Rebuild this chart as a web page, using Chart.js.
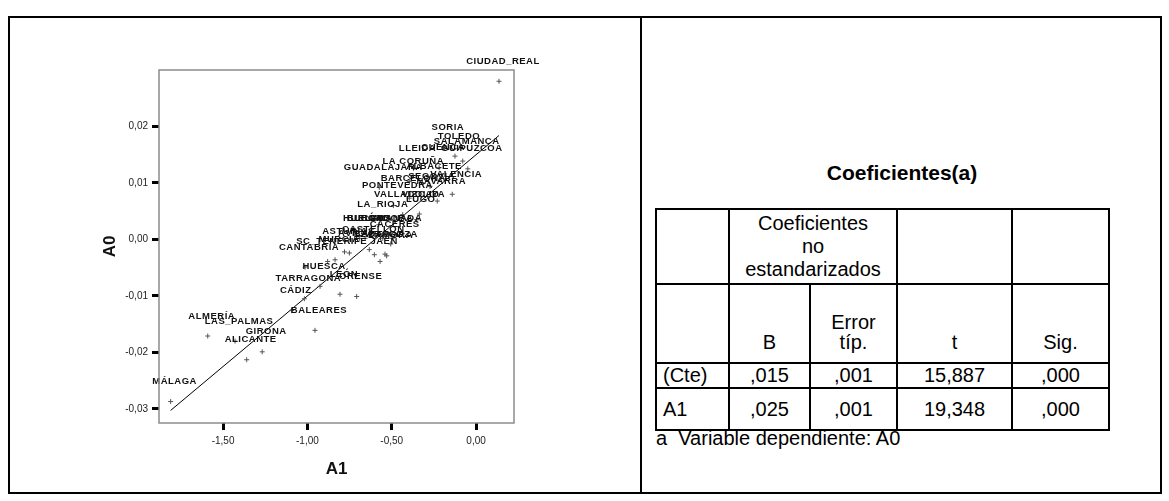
<!DOCTYPE html>
<html>
<head>
<meta charset="utf-8">
<title>A0 frente a A1</title>
<script src="https://cdn.jsdelivr.net/npm/chart.js@4/dist/chart.umd.min.js"></script>
<style>
    html, body { margin: 0; padding: 0; background: #fff; }
    body {
        width: 1169px; height: 501px; position: relative; overflow: hidden;
        font-family: Arial, "Liberation Sans", sans-serif; color: #000;
    }
    #scatter { position: absolute; left: 0; top: 0; z-index: 0; }
    #frame {
        position: absolute; left: 8px; top: 16px; width: 1150px; height: 474px;
        border: 2px solid #000; z-index: 1; pointer-events: none;
    }
    #divider {
        position: absolute; left: 640px; top: 16px; width: 2px; height: 478px;
        background: #000; z-index: 1;
    }
    #coefTitle {
        position: absolute; left: 643px; width: 518px; top: 161px;
        text-align: center; font-weight: bold; font-size: 21px; line-height: 24px;
    }
    #coef {
        position: absolute; left: 655px; top: 208px;
        border-collapse: collapse; table-layout: fixed; width: 455px;
        font-size: 20px;
    }
    #coef td { border: 2px solid #000; padding: 0 3px; text-align: center; vertical-align: middle; }
    #coef tr.h1 { height: 75px; }
    #coef tr.h1 td { line-height: 23px; }
    #coef tr.h2 { height: 79px; }
    #coef tr.h2 td { vertical-align: bottom; line-height: 20px; padding-bottom: 10px; }
    #coef td.name { text-align: left; padding-left: 6px; }
    #coefNote { position: absolute; left: 656px; top: 427px; font-size: 20px; line-height: 23px; }
</style>
</head>
<body>
<canvas id="scatter" width="641" height="501"></canvas>
<div id="frame"></div>
<div id="divider"></div>

<div id="coefTitle">Coeficientes(a)</div>
<table id="coef">
    <colgroup>
        <col style="width:73px"><col style="width:81px"><col style="width:87px"><col style="width:115px"><col style="width:97px">
    </colgroup>
    <tbody>
        <tr class="h1"><td></td><td colspan="2">Coeficientes<br>no<br>estandarizados</td><td></td><td></td></tr>
        <tr class="h2"><td></td><td>B</td><td>Error<br>típ.</td><td>t</td><td>Sig.</td></tr>
    </tbody>
</table>
<div id="coefNote">a&nbsp; Variable dependiente: A0</div>

<script>
// Provincias y sus valores (A1 en el eje X, A0 en el eje Y)
const provinces = [
    'CIUDAD_REAL', 'SORIA', 'TOLEDO', 'SALAMANCA', 'CUENCA', 'LLEIDA', 'GUIPUZCOA',
    'LA CORUÑA', 'ALBACETE', 'GUADALAJARA', 'VALENCIA', 'BARCELONA', 'NAVARRA', 'SEGOVIA',
    'PONTEVEDRA', 'VALLADOLID', 'VIZCAYA', 'LUGO', 'LA_RIOJA',
    'HUELVA', 'BURGOS', 'CÓRDOBA', 'GRANADA', 'CÁCERES', 'CASTELLÓN', 'ASTURIAS', 'ÁVILA',
    'BADAJOZ', 'ZARAGOZA', 'ZAMORA', 'MURCIA', 'SC_TENERIFE', 'JAÉN', 'CANTABRIA',
    'HUESCA', 'LEÓN', 'ORENSE', 'TARRAGONA', 'CÁDIZ', 'BALEARES',
    'ALMERÍA', 'LAS_PALMAS', 'GIRONA', 'ALICANTE', 'MÁLAGA'
];
const a1Values = [
    0.136, -0.191, -0.125, -0.079, -0.219, -0.371, -0.049,
    -0.396, -0.273, -0.574, -0.141, -0.396, -0.230, -0.287,
    -0.490, -0.435, -0.336, -0.352, -0.577,
    -0.692, -0.658, -0.553, -0.498, -0.506, -0.633, -0.780, -0.751,
    -0.603, -0.540, -0.530, -0.836, -0.880, -0.569, -1.014,
    -0.925, -0.807, -0.708, -1.018, -1.093, -0.955,
    -1.591, -1.429, -1.268, -1.360, -1.811
];
const a0Values = [
    0.0280, 0.01625, 0.01475, 0.01387, 0.0127, 0.0126, 0.0125,
    0.01025, 0.0094, 0.0092, 0.0080, 0.0073, 0.0068, 0.0076,
    0.0060, 0.0044, 0.0045, 0.0035, 0.0026,
    0.0002, 0.0002, 0.0002, 0.0002, -0.0008, -0.0018, -0.0022, -0.0024,
    -0.0027, -0.0026, -0.0029, -0.0036, -0.0039, -0.0039, -0.0049,
    -0.0083, -0.0097, -0.0101, -0.0105, -0.0126, -0.0161,
    -0.0171, -0.0180, -0.0199, -0.0213, -0.0287
];

const xTickValues = [-1.5, -1.0, -0.5, 0];
const xTickLabels = ['-1,50', '-1,00', '-0,50', '0,00'];
const yTickValues = [-0.03, -0.02, -0.01, 0, 0.01, 0.02];
const yTickLabels = ['-0,03', '-0,02', '-0,01', '0,00', '0,01', '0,02'];

// Tabla de coeficientes
const coefNames = ['(Cte)', 'A1'];
const coefB = [0.015, 0.025];
const coefStdErr = [0.001, 0.001];
const coefT = [15.887, 19.348];
const coefSig = [0.000, 0.000];

const FONT = 'Arial, "Liberation Sans", sans-serif';

// Coma decimal, sin cero inicial (",015")
function spssNum(v) {
    return v.toFixed(3).replace(/^0\./, ',').replace('.', ',');
}

const tbody = document.querySelector('#coef tbody');
coefNames.forEach((name, i) => {
    const tr = document.createElement('tr');
    tr.style.height = i === 0 ? '23px' : '42px';
    const cells = [name, spssNum(coefB[i]), spssNum(coefStdErr[i]), spssNum(coefT[i]), spssNum(coefSig[i])];
    cells.forEach((txt, j) => {
        const td = document.createElement('td');
        td.textContent = txt;
        if (j === 0) td.className = 'name';
        tr.appendChild(td);
    });
    tbody.appendChild(tr);
});

// Recta de regresion A0 = B0 + B1 * A1
const xMin = Math.min(...a1Values);
const xMax = Math.max(...a1Values);
const fitLine = [xMin, xMax].map(x => ({ x: x, y: coefB[0] + coefB[1] * x }));

// Marco gris alrededor del area del grafico
const plotFrame = {
    id: 'plotFrame',
    afterDraw(chart) {
        const { ctx, chartArea: a } = chart;
        ctx.save();
        ctx.strokeStyle = '#8c8c8c';
        ctx.lineWidth = 1.5;
        ctx.strokeRect(a.left, a.top, a.right - a.left, a.bottom - a.top);
        ctx.restore();
    }
};

// Etiquetas de provincia encima de cada punto
const pointLabels = {
    id: 'pointLabels',
    afterDatasetsDraw(chart) {
        const { ctx, scales: { x, y } } = chart;
        ctx.save();
        ctx.font = 'bold 9.5px ' + FONT;
        ctx.letterSpacing = '0.5px';
        ctx.fillStyle = '#111';
        ctx.textAlign = 'center';
        ctx.textBaseline = 'middle';
        provinces.forEach((name, i) => {
            const px = x.getPixelForValue(a1Values[i]);
            const py = y.getPixelForValue(a0Values[i]);
            ctx.fillText(name, px + 4, py - 20);
        });
        ctx.restore();
    }
};

const tickGrid = {
    display: true,
    drawOnChartArea: false,
    drawTicks: true,
    tickLength: 7,
    tickWidth: 3,
    tickColor: '#000'
};

const ctx = document.getElementById('scatter').getContext('2d');
new Chart(ctx, {
    type: 'scatter',
    data: {
        datasets: [{
            label: 'Provincias',
            data: a1Values.map((x, i) => ({ x: x, y: a0Values[i] })),
            pointStyle: 'cross',
            pointRadius: 2.5,
            borderColor: '#555',
            borderWidth: 1
        }, {
            type: 'line',
            label: 'Ajuste lineal',
            data: fitLine,
            borderColor: '#000',
            borderWidth: 1,
            pointRadius: 0,
            fill: false
        }]
    },
    options: {
        responsive: false,
        animation: false,
        devicePixelRatio: 1,
        layout: { padding: { left: 0, top: 70, right: 127, bottom: 0 } },
        plugins: {
            legend: { display: false },
            tooltip: { enabled: false }
        },
        scales: {
            x: {
                type: 'linear',
                min: -1.88,
                max: 0.225,
                afterBuildTicks: scale => { scale.ticks = xTickValues.map(v => ({ value: v })); },
                afterFit: scale => { scale.height = 78; },
                grid: tickGrid,
                border: { display: false },
                ticks: {
                    autoSkip: false,
                    maxRotation: 0,
                    padding: 5,
                    color: '#222',
                    font: { family: FONT, size: 10 },
                    callback: (v, i) => xTickLabels[i]
                },
                title: {
                    display: true,
                    text: 'A1',
                    color: '#111',
                    font: { family: FONT, size: 17, weight: 'bold' },
                    padding: { top: 0, bottom: 21 }
                }
            },
            y: {
                type: 'linear',
                min: -0.0325,
                max: 0.030,
                afterBuildTicks: scale => { scale.ticks = yTickValues.map(v => ({ value: v })); },
                afterFit: scale => { scale.width = 159; },
                grid: tickGrid,
                border: { display: false },
                ticks: {
                    autoSkip: false,
                    padding: 4,
                    color: '#222',
                    font: { family: FONT, size: 10 },
                    callback: (v, i) => yTickLabels[i]
                },
                title: {
                    display: true,
                    text: 'A0',
                    color: '#111',
                    font: { family: FONT, size: 17, weight: 'bold' },
                    padding: { top: 100, bottom: 0 }
                }
            }
        }
    },
    plugins: [plotFrame, pointLabels]
});
</script>
</body>
</html>
